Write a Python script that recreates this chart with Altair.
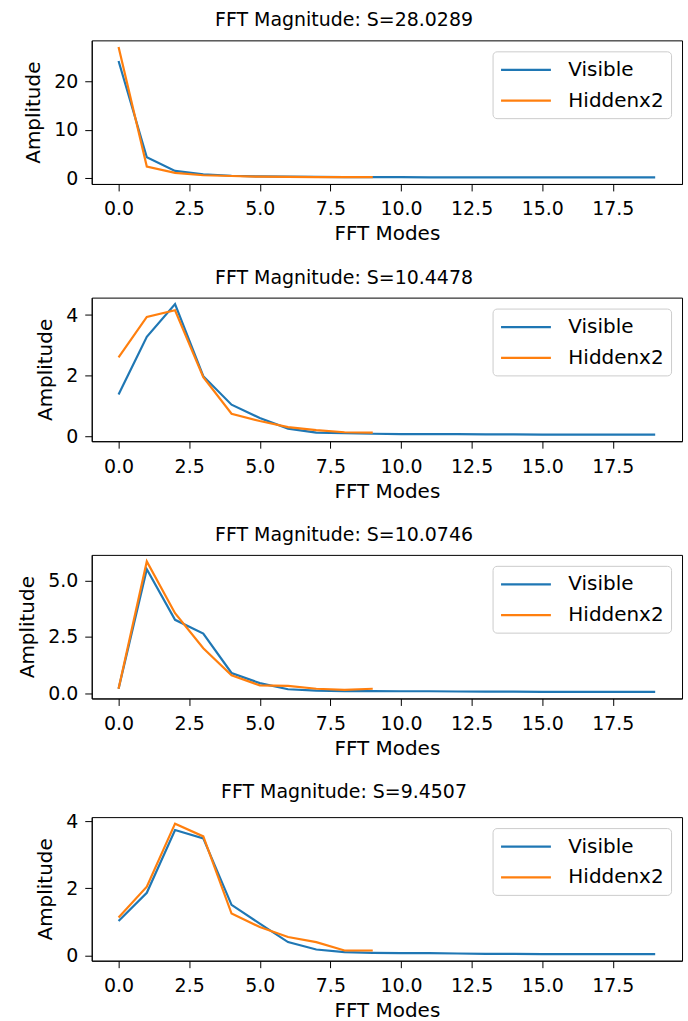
import altair as alt
import pandas as pd

modes_visible = list(range(20))
modes_hidden = list(range(10))

titles = [
    "FFT Magnitude: S=28.0289",
    "FFT Magnitude: S=10.4478",
    "FFT Magnitude: S=10.0746",
    "FFT Magnitude: S=9.4507",
]

visible_1 = [24.2, 4.3, 1.5, 0.8, 0.5, 0.35, 0.3, 0.25, 0.22, 0.2, 0.2, 0.18, 0.18, 0.17, 0.17, 0.16, 0.16, 0.15, 0.15, 0.15]
hidden_1 = [27.1, 2.4, 1.1, 0.6, 0.45, 0.3, 0.25, 0.22, 0.2, 0.2]

visible_2 = [1.38, 3.28, 4.36, 1.98, 1.04, 0.6, 0.25, 0.12, 0.1, 0.08, 0.07, 0.07, 0.07, 0.06, 0.06, 0.05, 0.05, 0.05, 0.05, 0.05]
hidden_2 = [2.6, 3.94, 4.16, 1.95, 0.74, 0.5, 0.3, 0.2, 0.13, 0.12]

visible_3 = [0.2, 5.5, 3.26, 2.65, 0.9, 0.45, 0.18, 0.12, 0.1, 0.1, 0.09, 0.09, 0.08, 0.07, 0.07, 0.06, 0.06, 0.06, 0.06, 0.06]
hidden_3 = [0.2, 5.85, 3.55, 2.0, 0.8, 0.35, 0.33, 0.2, 0.15, 0.2]

visible_4 = [1.03, 1.87, 3.74, 3.49, 1.51, 0.95, 0.4, 0.18, 0.1, 0.08, 0.07, 0.07, 0.06, 0.05, 0.05, 0.04, 0.04, 0.04, 0.04, 0.04]
hidden_4 = [1.13, 2.05, 3.93, 3.55, 1.25, 0.85, 0.55, 0.4, 0.15, 0.15]

y_ticks = [[0, 10, 20], [0, 2, 4], [0, 2.5, 5.0], [0, 2, 4]]
y_formats = ["d", "d", ".1f", "d"]
x_ticks = [0, 2.5, 5, 7.5, 10, 12.5, 15, 17.5]

series_names = ["Visible", "Hiddenx2"]
series_colors = ["#1f77b4", "#ff7f0e"]

panels = [
    (visible_1, hidden_1),
    (visible_2, hidden_2),
    (visible_3, hidden_3),
    (visible_4, hidden_4),
]

FONT = "DejaVu Sans"
charts = []
for i, (vis, hid) in enumerate(panels):
    df = pd.concat([
        pd.DataFrame({"mode": modes_visible, "amp": vis, "series": "Visible", "order": 0}),
        pd.DataFrame({"mode": modes_hidden, "amp": hid, "series": "Hiddenx2", "order": 1}),
    ])
    lo = min(min(vis), min(hid))
    hi = max(max(vis), max(hid))
    pad = (hi - lo) * 0.05
    c = alt.Chart(df, title=alt.TitleParams(
        titles[i], anchor="middle", dx=-43, offset=-5, fontSize=19,
        font=FONT, fontWeight="normal", color="black", baseline="alphabetic")
    ).mark_line(strokeWidth=2.2).encode(
        x=alt.X("mode:Q", title="FFT Modes",
                scale=alt.Scale(domain=[-0.95, 19.95], nice=False, zero=False),
                axis=alt.Axis(values=x_ticks, format=".1f")),
        y=alt.Y("amp:Q", title="Amplitude",
                scale=alt.Scale(domain=[lo - pad, hi + pad], nice=False, zero=False),
                axis=alt.Axis(values=y_ticks[i], format=y_formats[i])),
        color=alt.Color("series:N",
                        scale=alt.Scale(domain=series_names, range=series_colors),
                        legend=alt.Legend(title=None, orient="top-right", offset=11)),
        detail="order:N",
    ).properties(width=592, height=144)
    charts.append(c)

chart = alt.vconcat(*charts, spacing=23).resolve_scale(color="independent").configure(
    font=FONT,
    padding={"left": 17, "top": 9, "right": 5, "bottom": 2},
).configure_view(
    stroke="black", strokeWidth=1
).configure_axis(
    grid=False,
    domainColor="black",
    tickColor="black",
    tickSize=7,
    labelFontSize=19,
    labelColor="black",
    labelFont=FONT,
    titleFontSize=20,
    titleFont=FONT,
    titleFontWeight="normal",
    titleColor="black",
    titlePadding=8,
).configure_axisX(
    labelPadding=9,
    titlePadding=5,
).configure_axisY(
    labelPadding=7,
    titlePadding=10,
).configure_legend(
    labelFontSize=20,
    labelFont=FONT,
    labelColor="black",
    symbolType="M-1,0H4.0",
    symbolSize=400,
    symbolStrokeWidth=2.2,
    labelOffset=46,
    rowPadding=9,
    padding=7,
    strokeColor="#cccccc",
    fillColor="rgba(255,255,255,0.8)",
    cornerRadius=4,
)

chart.save("out.html", embed_options={"renderer": "svg", "actions": False})
